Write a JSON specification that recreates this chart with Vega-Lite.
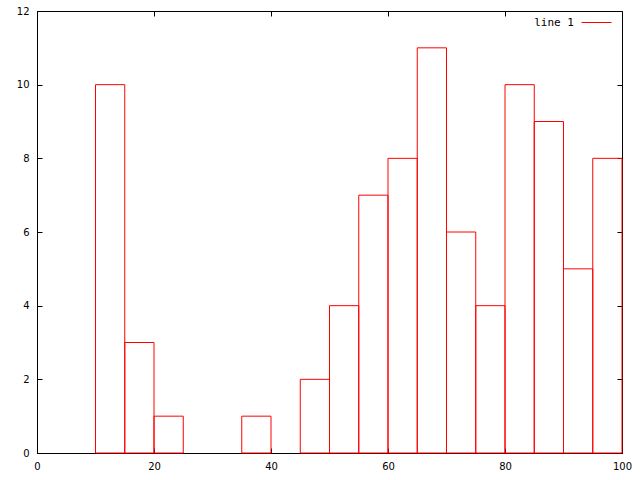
{
  "$schema": "https://vega.github.io/schema/vega-lite/v6.json",
  "width": 585,
  "height": 442,
  "autosize": {"type": "none"},
  "padding": {"left": 37, "top": 11, "right": 18, "bottom": 27},
  "background": "white",
  "config": {
    "view": {"stroke": "black", "strokeWidth": 1},
    "font": "DejaVu Sans",
    "axis": {
      "grid": false,
      "domainColor": "black",
      "tickColor": "black",
      "labelColor": "black",
      "labelFont": "DejaVu Sans",
      "labelFontSize": 10,
      "zindex": 1,
      "title": null
    }
  },
  "data": {
    "values": [
      {"start": 10, "end": 15, "count": 10, "series": "line 1"},
      {"start": 15, "end": 20, "count": 3, "series": "line 1"},
      {"start": 20, "end": 25, "count": 1, "series": "line 1"},
      {"start": 35, "end": 40, "count": 1, "series": "line 1"},
      {"start": 45, "end": 50, "count": 2, "series": "line 1"},
      {"start": 50, "end": 55, "count": 4, "series": "line 1"},
      {"start": 55, "end": 60, "count": 7, "series": "line 1"},
      {"start": 60, "end": 65, "count": 8, "series": "line 1"},
      {"start": 65, "end": 70, "count": 11, "series": "line 1"},
      {"start": 70, "end": 75, "count": 6, "series": "line 1"},
      {"start": 75, "end": 80, "count": 4, "series": "line 1"},
      {"start": 80, "end": 85, "count": 10, "series": "line 1"},
      {"start": 85, "end": 90, "count": 9, "series": "line 1"},
      {"start": 90, "end": 95, "count": 5, "series": "line 1"},
      {"start": 95, "end": 100, "count": 8, "series": "line 1"}
    ]
  },
  "layer": [
    {
      "mark": {"type": "bar", "filled": false, "strokeWidth": 1, "opacity": 1},
      "encoding": {
        "x": {"field": "start", "type": "quantitative", "scale": {"domain": [0, 100], "nice": false},
              "axis": {"orient": "bottom", "values": [0, 20, 40, 60, 80, 100], "tickSize": -5, "labelPadding": 13, "labelFlush": false}},
        "x2": {"field": "end"},
        "y": {"field": "count", "type": "quantitative", "scale": {"domain": [0, 12], "nice": false},
              "axis": {"orient": "left", "values": [0, 2, 4, 6, 8, 10, 12], "tickSize": -5, "labelPadding": 13}},
        "y2": {"datum": 0},
        "color": {"field": "series", "type": "nominal", "scale": {"range": ["red"]},
                  "legend": {"title": null, "orient": "none", "legendX": 544, "legendY": -4,
                             "symbolType": "stroke", "symbolSize": 900, "symbolStrokeWidth": 1,
                             "labelAlign": "right", "labelOffset": -38, "labelFont": "DejaVu Sans Mono",
                             "labelFontSize": 11, "labelColor": "black"}}
      }
    },
    {
      "mark": {"type": "bar", "filled": false, "opacity": 0},
      "encoding": {
        "x": {"field": "start", "type": "quantitative", "scale": {"domain": [0, 100], "nice": false},
              "axis": {"orient": "top", "values": [0, 20, 40, 60, 80, 100], "tickSize": -5, "labels": false, "domain": false}},
        "x2": {"field": "end"},
        "y": {"field": "count", "type": "quantitative", "scale": {"domain": [0, 12], "nice": false},
              "axis": {"orient": "right", "values": [0, 2, 4, 6, 8, 10, 12], "tickSize": -5, "labels": false, "domain": false}},
        "y2": {"datum": 0}
      }
    }
  ],
  "resolve": {"axis": {"x": "independent", "y": "independent"}}
}
